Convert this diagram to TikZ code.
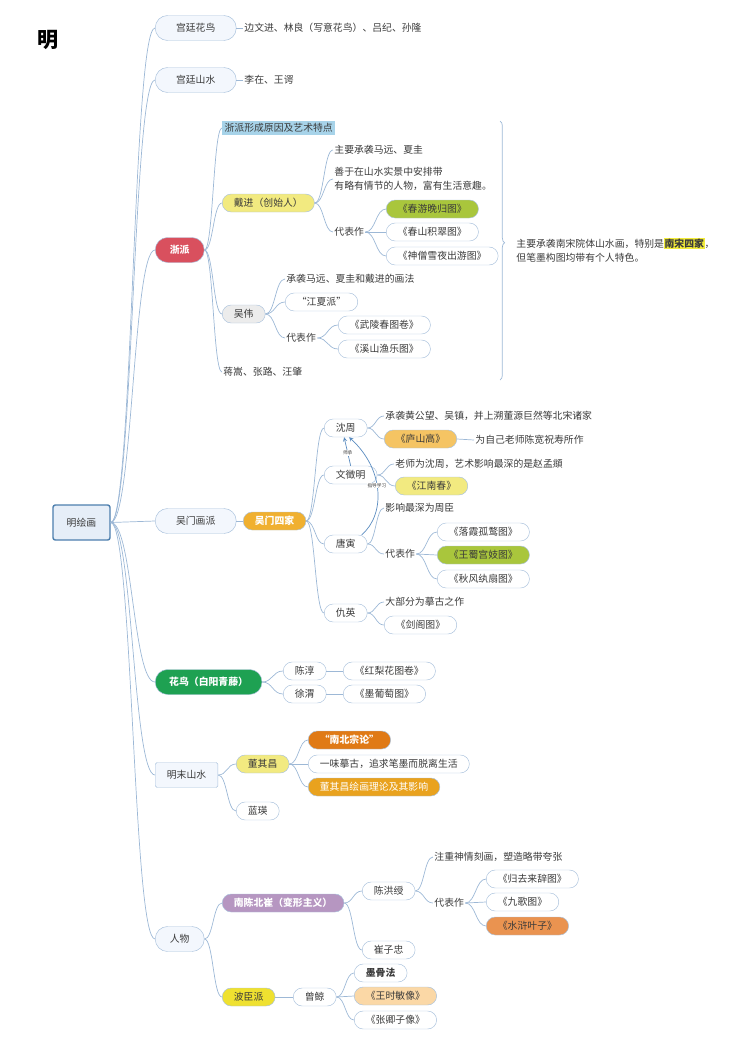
\documentclass[tikz,border=0pt]{standalone}
\usepackage{fontspec}
\newfontfamily\cjk{Noto Sans CJK SC}
\usetikzlibrary{calc,decorations.pathreplacing}
\definecolor{linec}{HTML}{9DB8D6}
\definecolor{pillc}{HTML}{A9C1DC}
\definecolor{arrc}{HTML}{5B8CC0}
\definecolor{txtc}{HTML}{3A3A3A}
\definecolor{mainfill}{HTML}{F3F7FD}
\definecolor{rootc}{HTML}{4D7FAE}
\definecolor{rootfill}{HTML}{E6EEF8}
\definecolor{zred}{HTML}{D9505E}
\definecolor{zblue}{HTML}{A7D3E9}
\definecolor{pyellow}{HTML}{F2EA80}
\definecolor{pgreen}{HTML}{A9C63C}
\definecolor{pgray}{HTML}{ECECEC}
\definecolor{porange}{HTML}{F0B030}
\definecolor{plushan}{HTML}{F5C463}
\definecolor{hgreen}{HTML}{1EA152}
\definecolor{dorange}{HTML}{E07A16}
\definecolor{morange}{HTML}{E9A21E}
\definecolor{ppurple}{HTML}{B696C1}
\definecolor{shorange}{HTML}{EA9350}
\definecolor{byellow}{HTML}{EFE130}
\definecolor{ppeach}{HTML}{FBD8A6}
\definecolor{hly}{HTML}{F2EC3A}
\newcommand\mapfont{\cjk\fontsize{8.4}{10}\selectfont}

\tikzset{
  every node/.style={font=\mapfont, text=txtc},
  branch/.style={draw=linec, line width=.6pt,
    to path={.. controls ($(\tikztostart)!.5!(\tikztostart -| \tikztotarget)$)
      and ($(\tikztotarget)!.5!(\tikztotarget -| \tikztostart)$) .. (\tikztotarget)}},
  topic/.style={draw=pillc, fill=white, rounded corners=.27cm, minimum height=.54cm,
    inner xsep=.35cm, inner ysep=0pt, anchor=west},
  maintopic/.style={topic, fill=mainfill, rounded corners=.37cm, minimum height=.75cm,
    inner xsep=.42cm, minimum width=2.43cm},
  leaf/.style={anchor=west, inner sep=1pt},
  hot/.style={text=white, font=\mapfont\bfseries},
  lbl/.style={font=\cjk\fontsize{4}{4}\selectfont, fill=white, inner sep=.5pt},
}

\begin{document}
\begin{tikzpicture}[x=0.03cm, y=-0.03cm, >=stealth]
\useasboundingbox (0,0) rectangle (750,1061);

\node[font=\cjk\bfseries\fontsize{18}{18}\selectfont, text=black] (title) at (48,40) {明};
\node[draw=rootc, line width=1.2pt, fill=rootfill, rounded corners=2pt,
  minimum width=1.71cm, minimum height=1.05cm] (root) at (81.5,522.5) {明绘画};

% 宫廷
\node[maintopic] (mh) at (155,28) {宫廷花鸟};
\node[leaf] (mht) at (243,28) {边文进、林良（写意花鸟）、吕纪、孙隆};
\node[maintopic] (ms) at (155,80) {宫廷山水};
\node[leaf] (mst) at (243,80) {李在、王谔};

% 浙派
\node[maintopic, minimum width=1.47cm, fill=zred, hot] (zp) at (155,250) {浙派};
\node[leaf, fill=zblue, inner sep=2pt] (zp1) at (222,128) {浙派形成原因及艺术特点};
\node[topic, fill=pyellow] (dj) at (222,203) {戴进（创始人）};
\node[leaf] (dj1) at (333,150) {主要承袭马远、夏圭};
\node[leaf, align=left, font=\cjk\fontsize{8.4}{12}\selectfont] (dj2) at (333,179)
  {善于在山水实景中安排带\\有略有情节的人物，富有生活意趣。};
\node[leaf] (dj3) at (333,232) {代表作};
\node[topic, fill=pgreen] (djw1) at (386,209) {《春游晚归图》};
\node[topic] (djw2) at (386,232) {《春山积翠图》};
\node[topic] (djw3) at (386,256) {《神僧雪夜出游图》};
\node[topic, fill=pgray] (ww) at (222,314) {吴伟};
\node[leaf] (ww1) at (285,279) {承袭马远、夏圭和戴进的画法};
\node[topic] (ww2) at (285,302) {“江夏派”};
\node[leaf] (ww3) at (285,338) {代表作};
\node[topic] (www1) at (338,325) {《武陵春图卷》};
\node[topic] (www2) at (338,349) {《溪山渔乐图》};
\node[leaf] (zp4) at (222,372) {蒋嵩、张路、汪肇};
\coordinate (bt) at (500,121);
\coordinate (bb) at (500,380);
\draw[linec, line width=.6pt, decorate, decoration={brace, amplitude=4pt, aspect=.47}] (bt) -- (bb);
\node[leaf, align=left, font=\cjk\fontsize{8.4}{11.9}\selectfont] (zpsum) at (515,250)
  {主要承袭南宋院体山水画，特别是{\fboxsep=.5pt\colorbox{hly}{\textbf{南宋四家}}}，\\但笔墨构图均带有个人特色。};

% 吴门画派
\node[maintopic] (wm) at (155,521) {吴门画派};
\node[topic, fill=porange, hot] (wm4) at (243,521) {吴门四家};
\node[topic] (sz) at (324,428) {沈周};
\node[leaf] (sz1) at (384,416) {承袭黄公望、吴镇，并上溯董源巨然等北宋诸家};
\node[topic, fill=plushan] (sz2) at (384,439) {《庐山高》};
\node[leaf] (sz3) at (474,440) {为自己老师陈宽祝寿所作};
\node[topic] (wz) at (324,475) {文徵明};
\node[leaf] (wz1) at (394,464) {老师为沈周，艺术影响最深的是赵孟頫};
\node[topic, fill=pyellow] (wz2) at (395,486) {《江南春》};
\node[topic] (ty) at (324,544) {唐寅};
\node[leaf] (ty1) at (384,508) {影响最深为周臣};
\node[leaf] (ty2) at (384,554) {代表作};
\node[topic] (tyw1) at (437,532) {《落霞孤鹜图》};
\node[topic, fill=pgreen] (tyw2) at (437,555) {《王蜀宫妓图》};
\node[topic] (tyw3) at (437,579) {《秋风纨扇图》};
\node[topic] (qy) at (324,613) {仇英};
\node[leaf] (qy1) at (384,602) {大部分为摹古之作};
\node[topic] (qy2) at (384,625) {《剑阁图》};

% 花鸟
\node[maintopic, minimum width=1.47cm, fill=hgreen, hot] (hn) at (155,682) {花鸟（白阳青藤）};
\node[topic] (cc) at (283,671) {陈淳};
\node[topic] (ccw) at (343,671) {《红梨花图卷》};
\node[topic] (xw) at (283,694) {徐渭};
\node[topic] (xww) at (343,694) {《墨葡萄图》};

% 明末山水
\node[draw=pillc, fill=mainfill, rounded corners=1.5pt, minimum height=.75cm,
  inner xsep=.35cm, anchor=west] (mm) at (155,775) {明末山水};
\node[topic, fill=pyellow] (dq) at (236,764) {董其昌};
\node[topic, fill=dorange, hot] (dq1) at (308,740) {“南北宗论”};
\node[topic] (dq2) at (308,764) {一味摹古，追求笔墨而脱离生活};
\node[topic, fill=morange, text=white] (dq3) at (308,787) {董其昌绘画理论及其影响};
\node[topic] (ly) at (236,811) {蓝瑛};

% 人物
\node[maintopic, minimum width=1.47cm] (rw) at (155,939) {人物};
\node[topic, fill=ppurple, hot] (nc) at (222,903) {南陈北崔（变形主义）};
\node[topic] (chs) at (362,891) {陈洪绶};
\node[leaf] (chs1) at (433,857) {注重神情刻画，塑造略带夸张};
\node[leaf] (chs2) at (433,903) {代表作};
\node[topic] (chw1) at (486,879) {《归去来辞图》};
\node[topic] (chw2) at (486,902) {《九歌图》};
\node[topic, fill=shorange] (chw3) at (486,926) {《水浒叶子》};
\node[topic] (czz) at (362,950) {崔子忠};
\node[topic, fill=byellow] (bc) at (222,997) {波臣派};
\node[topic] (zj) at (293,997) {曾鲸};
\node[topic, font=\mapfont\bfseries] (zj1) at (354,973) {墨骨法};
\node[topic, fill=ppeach] (zj2) at (354,996) {《王时敏像》};
\node[topic] (zj3) at (354,1020) {《张卿子像》};

% connectors
\foreach \t in {mh,ms,zp,wm,hn,mm,rw}
  \draw[branch] (root.east) to (\t.west);
\draw[branch] (mh.east) to (mht.west);
\draw[branch] (ms.east) to (mst.west);
\foreach \t in {zp1,dj,ww,zp4}
  \draw[branch] (zp.east) to (\t.west);
\foreach \t in {dj1,dj2,dj3}
  \draw[branch] (dj.east) to (\t.west);
\foreach \t in {djw1,djw2,djw3}
  \draw[branch] (dj3.east) to (\t.west);
\foreach \t in {ww1,ww2,ww3}
  \draw[branch] (ww.east) to (\t.west);
\foreach \t in {www1,www2}
  \draw[branch] (ww3.east) to (\t.west);
\draw[branch] (wm.east) to (wm4.west);
\foreach \t in {sz,wz,ty,qy}
  \draw[branch] (wm4.east) to (\t.west);
\foreach \t in {sz1,sz2}
  \draw[branch] (sz.east) to (\t.west);
\draw[branch] (sz2.east) to (sz3.west);
\foreach \t in {wz1,wz2}
  \draw[branch] (wz.east) to (\t.west);
\foreach \t in {ty1,ty2}
  \draw[branch] (ty.east) to (\t.west);
\foreach \t in {tyw1,tyw2,tyw3}
  \draw[branch] (ty2.east) to (\t.west);
\foreach \t in {qy1,qy2}
  \draw[branch] (qy.east) to (\t.west);
\foreach \t in {cc,xw}
  \draw[branch] (hn.east) to (\t.west);
\draw[branch] (cc.east) to (ccw.west);
\draw[branch] (xw.east) to (xww.west);
\foreach \t in {dq,ly}
  \draw[branch] (mm.east) to (\t.west);
\foreach \t in {dq1,dq2,dq3}
  \draw[branch] (dq.east) to (\t.west);
\foreach \t in {nc,bc}
  \draw[branch] (rw.east) to (\t.west);
\foreach \t in {chs,czz}
  \draw[branch] (nc.east) to (\t.west);
\foreach \t in {chs1,chs2}
  \draw[branch] (chs.east) to (\t.west);
\foreach \t in {chw1,chw2,chw3}
  \draw[branch] (chs2.east) to (\t.west);
\draw[branch] (bc.east) to (zj.west);
\foreach \t in {zj1,zj2,zj3}
  \draw[branch] (zj.east) to (\t.west);

% 师承关系
\draw[->, arrc, line width=.6pt] (wz.north) -- node[lbl, pos=.45] {师承} (sz.-100);
\draw[->, arrc, line width=.6pt] (ty.30) .. controls (385,515) and (385,470)
  .. node[lbl, pos=.55] {指导学习} (sz.-70);
\end{tikzpicture}
\end{document}
